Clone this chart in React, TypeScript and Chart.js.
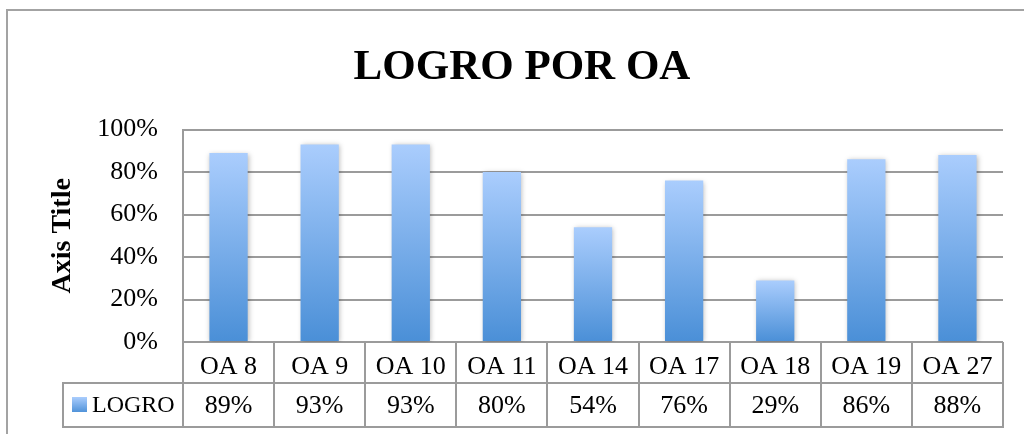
import React, { useEffect, useRef } from "react";
import { Chart, registerables } from "chart.js";

Chart.register(...registerables);

const chartTitle = "LOGRO POR OA";
const axisTitle = "Axis Title";
const seriesName = "LOGRO";
const categories = ["OA 8", "OA 9", "OA 10", "OA 11", "OA 14", "OA 17", "OA 18", "OA 19", "OA 27"];
const logro = [0.89, 0.93, 0.93, 0.8, 0.54, 0.76, 0.29, 0.86, 0.88];

const FONT = "'Liberation Serif', 'DejaVu Serif', serif";
const GRID = "#9b9b9b";
const FRAME = "#a3a3a3";
const BAR_TOP = "#aacdfd";
const BAR_BOTTOM = "#4a8fd7";

const pct = (v: number) => Math.round(v * 100) + "%";

function makeGradient(ctx: CanvasRenderingContext2D, top: number, bottom: number) {
  const g = ctx.createLinearGradient(0, top, 0, bottom);
  g.addColorStop(0, BAR_TOP);
  g.addColorStop(1, BAR_BOTTOM);
  return g;
}

const framePlugin = {
  id: "frame",
  beforeDraw(chart: any) {
    const ctx = chart.ctx;
    const w = ctx.canvas.width;
    const h = ctx.canvas.height;
    ctx.save();
    ctx.fillStyle = "#ffffff";
    ctx.fillRect(0, 0, w, h);
    ctx.fillStyle = FRAME;
    ctx.fillRect(6, 9, w, 2);
    ctx.fillRect(6, 9, 2, h);
    ctx.restore();
  },
};

const shadowPlugin = {
  id: "barShadow",
  beforeDatasetsDraw(chart: any) {
    const ctx = chart.ctx;
    ctx.save();
    ctx.shadowColor = "rgba(0,0,0,0.28)";
    ctx.shadowBlur = 5;
    ctx.shadowOffsetX = 1;
    ctx.shadowOffsetY = 1;
  },
  afterDatasetsDraw(chart: any) {
    chart.ctx.restore();
  },
};

const tablePlugin = {
  id: "dataTable",
  afterDraw(chart: any) {
    const { ctx } = chart;
    const x = chart.scales.x;
    const n = categories.length;
    const cw = (x.right - x.left) / n;
    const top = x.top;
    const mid = top + 41;
    const bot = top + 85;
    const legendLeft = 63;
    ctx.save();
    ctx.strokeStyle = GRID;
    ctx.lineWidth = 2;
    const line = (x1: number, y1: number, x2: number, y2: number) => {
      ctx.beginPath();
      ctx.moveTo(x1, y1);
      ctx.lineTo(x2, y2);
      ctx.stroke();
    };
    line(legendLeft - 1, mid, x.right + 1, mid);
    line(legendLeft - 1, bot, x.right + 1, bot);
    line(legendLeft, mid, legendLeft, bot);
    for (let i = 0; i <= n; i++) {
      const px = Math.round(x.left + i * cw);
      line(px, top, px, bot);
    }
    const ky = (mid + bot) / 2;
    ctx.fillStyle = makeGradient(ctx, ky - 8, ky + 8);
    ctx.fillRect(72, ky - 8, 15, 15);
    ctx.fillStyle = "#000";
    ctx.font = `24px ${FONT}`;
    ctx.textBaseline = "middle";
    ctx.textAlign = "left";
    ctx.fillText(seriesName, 92, ky + 1);
    ctx.font = `26px ${FONT}`;
    ctx.textAlign = "center";
    logro.forEach((v, i) => {
      ctx.fillText(pct(v), x.getPixelForValue(i), ky + 1);
    });
    ctx.restore();
  },
};

export default function App() {
  const ref = useRef<HTMLCanvasElement | null>(null);
  useEffect(() => {
    if (!ref.current) return;
    const chart = new Chart(ref.current, {
      type: "bar",
      data: {
        labels: categories,
        datasets: [
          {
            label: seriesName,
            data: logro,
            backgroundColor: (c: any) => {
              const ch = c.chart;
              const y = ch.scales && ch.scales.y;
              if (!y || c.type !== "data" || !c.parsed) return "#7aaef0";
              const t = y.getPixelForValue(c.parsed.y);
              const b = y.getPixelForValue(0);
              if (!isFinite(t) || !isFinite(b) || t === b) return "#7aaef0";
              return makeGradient(ch.ctx, t, b);
            },
            borderWidth: 0,
            barPercentage: 0.42,
            categoryPercentage: 1,
          },
        ],
      },
      options: {
        responsive: false,
        animation: false,
        devicePixelRatio: 1,
        layout: { padding: { left: 41, right: 21, top: 0, bottom: 0 } },
        plugins: {
          legend: { display: false },
          tooltip: { enabled: false },
          title: {
            display: true,
            text: chartTitle,
            color: "#000",
            font: { family: FONT, size: 43, weight: "bold" },
            padding: { top: 42, bottom: 36 },
          },
        },
        scales: {
          x: {
            grid: { display: false },
            border: { display: false },
            ticks: {
              color: "#000",
              font: { family: FONT, size: 26 },
              padding: 2,
              maxRotation: 0,
              autoSkip: false,
            },
            afterFit: (s: any) => {
              s.height = 92;
            },
          },
          y: {
            min: 0,
            max: 1,
            ticks: {
              stepSize: 0.2,
              callback: (v: any) => pct(Number(v)),
              color: "#000",
              font: { family: FONT, size: 26 },
              padding: 25,
            },
            grid: { color: GRID, lineWidth: 2, drawTicks: false },
            border: { display: true, color: GRID, width: 2 },
            title: {
              display: true,
              text: axisTitle,
              color: "#000",
              font: { family: FONT, size: 28, weight: "bold" },
              padding: { top: 5, bottom: 0 },
            },
            afterFit: (s: any) => {
              s.width = 142;
            },
          },
        },
      },
      plugins: [framePlugin, shadowPlugin, tablePlugin],
    });
    return () => chart.destroy();
  }, []);
  return (
    <div style={{ position: "fixed", left: 0, top: 0, width: 1024, height: 434 }}>
      <canvas ref={ref} width={1024} height={434} style={{ display: "block" }} />
    </div>
  );
}
